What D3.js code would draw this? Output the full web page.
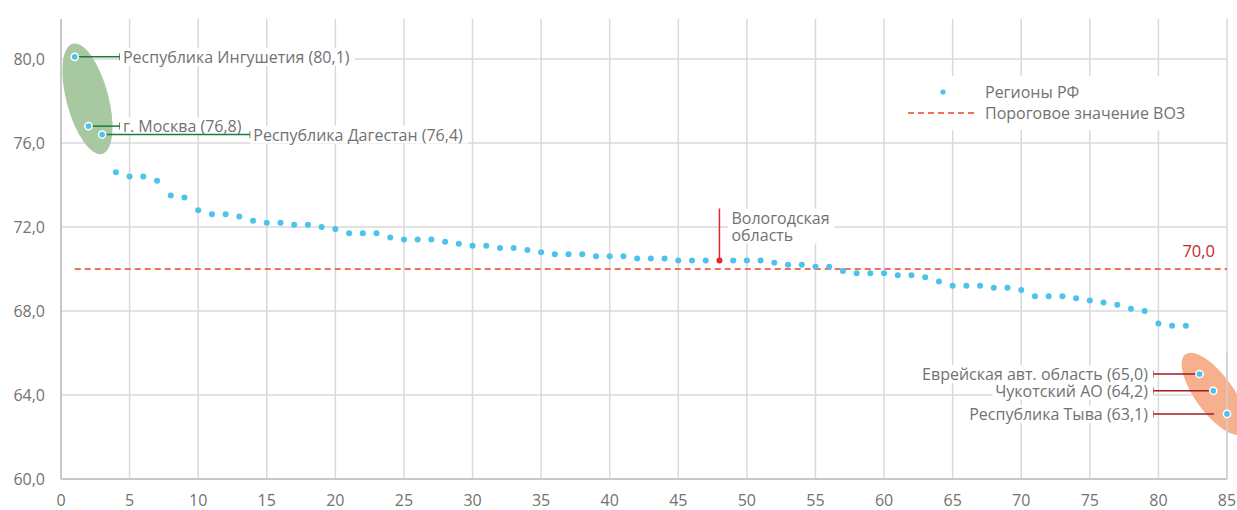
<!DOCTYPE html>
<html lang="ru">
<head>
<meta charset="UTF-8">
<title>Ожидаемая продолжительность жизни</title>
<script src="https://d3js.org/d3.v7.min.js"></script>
<style>
    body { margin: 0; background: #fff; }
    svg text { font-family: "Open Sans", sans-serif; fill: #727272; font-size: 16px; }
    .grid line { stroke: #d9d9d9; stroke-width: 1.5; }
</style>
</head>
<body>
<svg id="chart" width="1237" height="510"></svg>
<script>
// Регионы РФ, ранжированные по значению (позиция 1..85)
const regionValues = [
    80.1, 76.8, 76.4, 74.6, 74.4, 74.4, 74.2, 73.5, 73.4, 72.8,
    72.6, 72.6, 72.5, 72.3, 72.2, 72.2, 72.1, 72.1, 72.0, 71.9,
    71.7, 71.7, 71.7, 71.5, 71.4, 71.4, 71.4, 71.3, 71.2, 71.1,
    71.1, 71.0, 71.0, 70.9, 70.8, 70.7, 70.7, 70.7, 70.6, 70.6,
    70.6, 70.5, 70.5, 70.5, 70.4, 70.4, 70.4, 70.4, 70.4, 70.4,
    70.4, 70.3, 70.2, 70.2, 70.1, 70.1, 69.9, 69.8, 69.8, 69.8,
    69.7, 69.7, 69.6, 69.4, 69.2, 69.2, 69.2, 69.1, 69.1, 69.0,
    68.7, 68.7, 68.7, 68.6, 68.5, 68.4, 68.3, 68.1, 68.0, 67.4,
    67.3, 67.3, 65.0, 64.2, 63.1
];
const thresholdValue = 70.0;
const topNames = ["Республика Ингушетия", "г. Москва", "Республика Дагестан"];
const topRanks = [1, 2, 3];
const bottomNames = ["Еврейская авт. область", "Чукотский АО", "Республика Тыва"];
const bottomRanks = [83, 84, 85];
const highlightName = ["Вологодская", "область"];
const highlightRank = 48;
const xTicks = d3.range(0, 86, 5);
const yTicks = [60, 64, 68, 72, 76, 80];
const legendLabels = ["Регионы РФ", "Пороговое значение ВОЗ"];

const fmt = v => v.toFixed(1).replace(".", ",");
const points = regionValues.map((v, i) => ({ rank: i + 1, value: v }));
const isMarked = r => topRanks.includes(r) || bottomRanks.includes(r);

const svg = d3.select("#chart");
const x = d3.scaleLinear().domain([0, 85]).range([61, 1227]);
const y = d3.scaleLinear().domain([60, 81.9]).range([479, 19]);

// сетка
const grid = svg.append("g").attr("class", "grid");
grid.selectAll(".v").data(xTicks).enter().append("line")
    .attr("x1", d => x(d)).attr("x2", d => x(d))
    .attr("y1", y.range()[1]).attr("y2", y(60));
grid.selectAll(".h").data(yTicks.slice(1)).enter().append("line")
    .attr("x1", x(0)).attr("x2", x(85))
    .attr("y1", d => y(d)).attr("y2", d => y(d));

// оси
svg.append("line").attr("x1", x(0)).attr("x2", x(85)).attr("y1", y(60)).attr("y2", y(60))
    .attr("stroke", "#c8c8c8").attr("stroke-width", 2);
svg.append("line").attr("x1", x(0)).attr("x2", x(0)).attr("y1", y.range()[1]).attr("y2", y(60))
    .attr("stroke", "#c8c8c8").attr("stroke-width", 2);

svg.selectAll(".xl").data(xTicks).enter().append("text")
    .attr("x", d => x(d)).attr("y", 500).attr("text-anchor", "middle")
    .attr("dominant-baseline", "central").text(d => d);
svg.selectAll(".yl").data(yTicks).enter().append("text")
    .attr("x", 45).attr("y", d => y(d)).attr("text-anchor", "end")
    .attr("dominant-baseline", "central").text(fmt);

// выделение групп
const first = points.filter(p => topRanks.includes(p.rank));
const last = points.filter(p => bottomRanks.includes(p.rank));
const cx1 = d3.mean(first, p => x(p.rank)), cy1 = d3.mean(first, p => y(p.value));
svg.append("ellipse").attr("rx", 21).attr("ry", 57)
    .attr("transform", `translate(${cx1 - 1},${cy1 - 7}) rotate(-15)`)
    .attr("fill", "#a8c8a2");
const cx2 = d3.mean(last, p => x(p.rank)), cy2 = d3.mean(last, p => y(p.value));
svg.append("ellipse").attr("rx", 19).attr("ry", 49)
    .attr("transform", `translate(${cx2 + 1},${cy2 + 1}) rotate(-36)`)
    .attr("fill", "#f6b08e");
svg.append("line").attr("x1", x(85)).attr("x2", x(85)).attr("y1", y(66)).attr("y2", y(60))
    .attr("stroke", "#d0d0d0").attr("stroke-width", 1.5);

// пороговая линия
svg.append("line")
    .attr("x1", x(1)).attr("x2", x(85))
    .attr("y1", y(thresholdValue)).attr("y2", y(thresholdValue))
    .attr("stroke", "#f07157").attr("stroke-width", 2).attr("stroke-dasharray", "6,4");
svg.append("text").attr("x", 1215).attr("y", y(thresholdValue) - 18)
    .attr("text-anchor", "end").attr("dominant-baseline", "central")
    .style("font-size", "16.5px").style("fill", "#c0282e").text(fmt(thresholdValue));

// подписи с белым фоном
function boxedText(g, tx, ty, anchor, lines, step) {
    const ts = lines.map((s, i) => g.append("text").attr("x", tx).attr("y", ty + i * (step || 0))
        .attr("text-anchor", anchor).attr("dominant-baseline", "central").text(s));
    const bs = ts.map(t => t.node().getBBox());
    const x0 = d3.min(bs, b => b.x), x1 = d3.max(bs, b => b.x + b.width);
    const y0 = d3.min(bs, b => b.y), y1 = d3.max(bs, b => b.y + b.height);
    g.insert("rect", "text").attr("x", x0 - 3).attr("y", y0 + 2).attr("width", x1 - x0 + 8)
        .attr("height", y1 - y0 - 4).attr("fill", "#fff");
}

const callG = svg.append("g");
const topTicks = [4.3, 4.3, 13.8];
first.forEach((p, i) => {
    const tx = x(topTicks[i]), py = y(p.value);
    callG.append("line").attr("x1", x(p.rank)).attr("x2", tx).attr("y1", py).attr("y2", py)
        .attr("stroke", "#1e7a3c").attr("stroke-width", 1.5);
    callG.append("line").attr("x1", tx).attr("x2", tx).attr("y1", py - 3.5).attr("y2", py + 3.5)
        .attr("stroke", "#1e7a3c").attr("stroke-width", 1.5);
    boxedText(callG.append("g"), tx + 3, py, "start", [`${topNames[i]} (${fmt(p.value)})`]);
});
last.forEach((p, i) => {
    const tx = x(79.6), py = y(p.value);
    const ex = i === 2 ? x(p.rank) - 13 : x(p.rank);
    callG.append("line").attr("x1", tx).attr("x2", ex).attr("y1", py).attr("y2", py)
        .attr("stroke", "#9e1c24").attr("stroke-width", 1.5);
    callG.append("line").attr("x1", tx).attr("x2", tx).attr("y1", py - 3.5).attr("y2", py + 3.5)
        .attr("stroke", "#9e1c24").attr("stroke-width", 1.5);
    boxedText(callG.append("g"), tx - 5, py, "end", [`${bottomNames[i]} (${fmt(p.value)})`]);
});
const vp = points.find(p => p.rank === highlightRank);
callG.append("line").attr("x1", x(vp.rank)).attr("x2", x(vp.rank))
    .attr("y1", y(vp.value)).attr("y2", y(vp.value) - 52)
    .attr("stroke", "#e0262b").attr("stroke-width", 1.5);
boxedText(callG.append("g"), x(vp.rank) + 12, y(vp.value) - 43, "start", highlightName, 17);

// точки
svg.append("g").selectAll("circle").data(points).enter().append("circle")
    .attr("cx", d => x(d.rank)).attr("cy", d => y(d.value))
    .attr("r", d => isMarked(d.rank) ? 3.6 : 3)
    .attr("fill", d => d.rank === highlightRank ? "#e8262b" : "#4cc2ec")
    .attr("stroke", d => isMarked(d.rank) ? "#fff" : "none")
    .attr("stroke-width", 1.5);

// легенда
const lg = svg.append("g");
lg.append("rect").attr("x", 886).attr("y", 76).attr("width", 338).attr("height", 54).attr("fill", "#fff");
lg.append("circle").attr("cx", 943).attr("cy", 92).attr("r", 2.6).attr("fill", "#4cc2ec");
lg.append("line").attr("x1", 908).attr("x2", 974).attr("y1", 113).attr("y2", 113)
    .attr("stroke", "#f07157").attr("stroke-width", 2).attr("stroke-dasharray", "6,4");
lg.selectAll("text").data(legendLabels).enter().append("text")
    .attr("x", 985).attr("y", (d, i) => 92 + i * 21).attr("dominant-baseline", "central")
    .text(d => d);
</script>
</body>
</html>
